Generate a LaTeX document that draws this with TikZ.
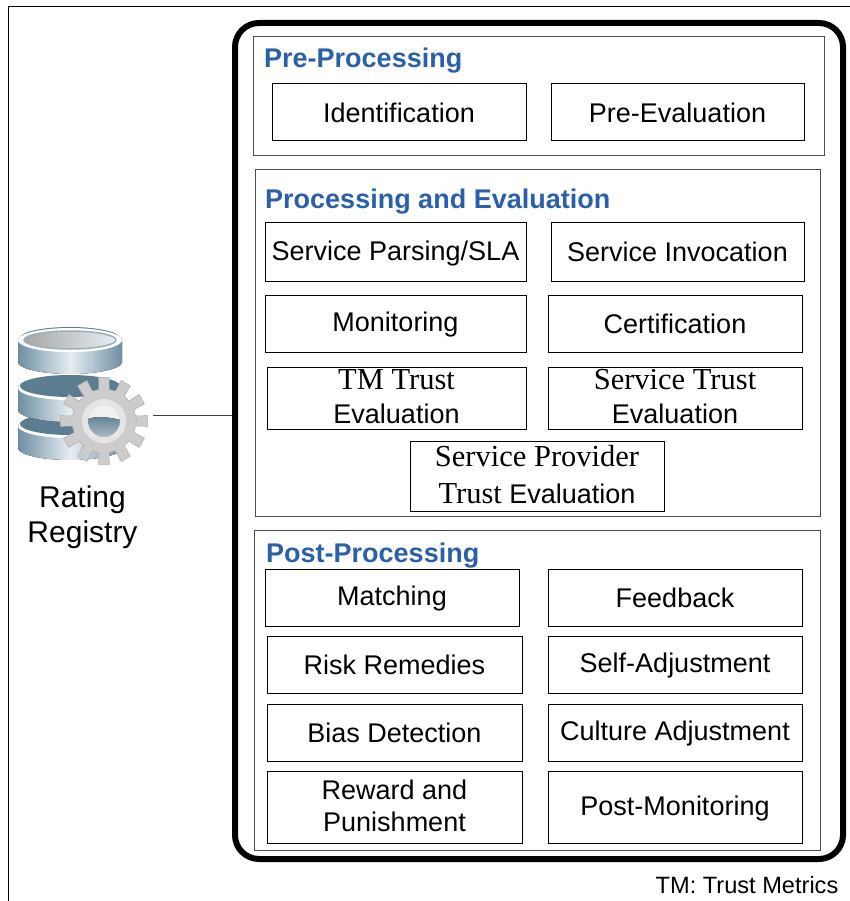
\documentclass[tikz,border=0pt]{standalone}
\usepackage{fontspec}
\setmainfont{Liberation Sans}
\newfontfamily\stageserif{Liberation Serif}
\newcommand{\stagerm}{\fontsize{30.5}{32}\stageserif}
\newcommand{\stagestrut}{\rule[-3pt]{0pt}{25.4pt}}
\definecolor{stageblue}{HTML}{2A60AA}
\definecolor{diskedge}{HTML}{6E8FA3}
\definecolor{diskmid}{HTML}{E6EEF2}
\definecolor{diskdark}{HTML}{5C7C90}
\tikzset{
	stagebox/.style={draw=black, line width=1pt, inner sep=0pt, align=center, font=\fontsize{27}{32}\selectfont,
		execute at begin node=\stagestrut, execute at end node=\stagestrut},
	stagegroup/.style={draw=black!70, line width=1pt, inner sep=0pt},
	stagetitle/.style={text=stageblue, inner sep=0pt, anchor=base west, font=\fontsize{27}{32}\selectfont\bfseries},
	plainlabel/.style={inner sep=0pt, align=center}
}
\begin{document}
\begin{tikzpicture}[x=1pt,y=-1pt]
	\useasboundingbox (0,0) rectangle (850,901);
	\draw[line width=1pt] (8.5,901) -- (8.5,6.5) -- (850,6.5);
	% stages
	\node[draw=black, line width=6pt, rounded corners=24pt, minimum width=608pt, minimum height=836pt, inner sep=0pt] (registered) at (539,441) {};
	\foreach \n/\x/\y/\wid/\hgt in {pre/538.5/96.5/571/119, proc/537.5/343/565/346, post/537/690/566/320}
	\node[stagegroup, minimum width=\wid pt, minimum height=\hgt pt] (\n) at (\x,\y) {};
	\node[stagetitle] (pretitle) at (264,68) {Pre-Processing};
	\node[stagetitle] (proctitle) at (265,209) {Processing and Evaluation};
	\node[stagetitle] (posttitle) at (266,562) {Post-Processing};
	% boxes
	\foreach \n/\x/\y/\wid/\hgt/\txt in {
		ident/399/112.5/254/57/{Identification},
		preeval/677.5/112.5/253/57/{Pre-Evaluation},
		parsing/395.5/252/261/58/{Service Parsing/SLA},
		invoke/677.5/252/253/58/{Service Invocation},
		monitor/395.5/323.5/261/57/{Monitoring},
		certif/675/323.5/254/57/{Certification},
		tmtrust/396.5/398/259/62/{{\stagerm TM Trust}\\[2pt]Evaluation},
		svctrust/675/398/254/62/{{\stagerm Service Trust}\\[2pt]Evaluation},
		provider/537/476/254/70/{{\stagerm Service Provider}\\[5pt]{\stagerm Trust} Evaluation},
		matching/392/597.5/254/57/{Matching},
		feedback/675/597.5/254/57/{Feedback},
		risk/394.5/664.5/255/57/{Risk Remedies},
		selfadj/675/664.5/254/57/{Self-Adjustment},
		bias/394.5/732.5/255/57/{Bias Detection},
		culture/675/732.5/254/57/{Culture Adjustment},
		reward/394.5/807/255/72/{Reward and\\Punishment},
		postmon/675/807/254/72/{Post-Monitoring}}
	\node[stagebox, minimum width=\wid pt, minimum height=\hgt pt] (\n) at (\x,\y) {\txt};
	% registry icon
	\foreach \y in {426,388,340} {
		\fill[left color=diskedge, right color=diskedge, middle color=diskmid]
			(18,\y) -- (18,\y+22) arc[start angle=180, end angle=0, x radius=52, y radius=12] -- (122,\y)
			arc[start angle=0, end angle=-180, x radius=52, y radius=12] -- cycle;
		\fill[white] (70,\y) ellipse[x radius=52, y radius=12];
		\fill[diskdark] (70,\y-2) ellipse[x radius=50, y radius=11];
	}
	\fill[white] (70,340) ellipse[x radius=52, y radius=12];
	\draw[diskedge!70, line width=1.5pt, left color=black!35, right color=diskmid] (70,340) ellipse[x radius=46, y radius=9];
	\fill[black!20, draw=black!32, line width=.5pt, even odd rule]
		(104,421) circle[radius=16]
		(104+33,421)
		\foreach \a in {0,30,...,330} {
			-- ({104+32*cos(\a-9)},{421+32*sin(\a-9)})
			-- ({104+44*cos(\a-7)},{421+44*sin(\a-7)})
			-- ({104+44*cos(\a+7)},{421+44*sin(\a+7)})
			-- ({104+32*cos(\a+9)},{421+32*sin(\a+9)})
		} -- cycle;
	\begin{scope}
		\clip (104,421) circle[radius=16];
		\fill[black!6] (84,401) rectangle (124,441);
		\fill[top color=diskdark, bottom color=diskedge!50] (84,441) -- (84,421) .. controls (94,414) and (114,418) .. (124,421) -- (124,441) -- cycle;
	\end{scope}
	\draw[black!10, line width=6pt] (104,421) circle[radius=19];
	\coordinate (gearport) at (153,415);
	\draw[line width=1pt, black!75] (gearport) -- (gearport -| registered.west);
	\node[plainlabel, font=\fontsize{30}{35}\selectfont] (rating) at (82.5,517) {Rating\\Registry};
	\node[plainlabel, font=\fontsize{23.6}{28}\selectfont] (tmnote) at (747,885) {TM: Trust Metrics};
\end{tikzpicture}
\end{document}
